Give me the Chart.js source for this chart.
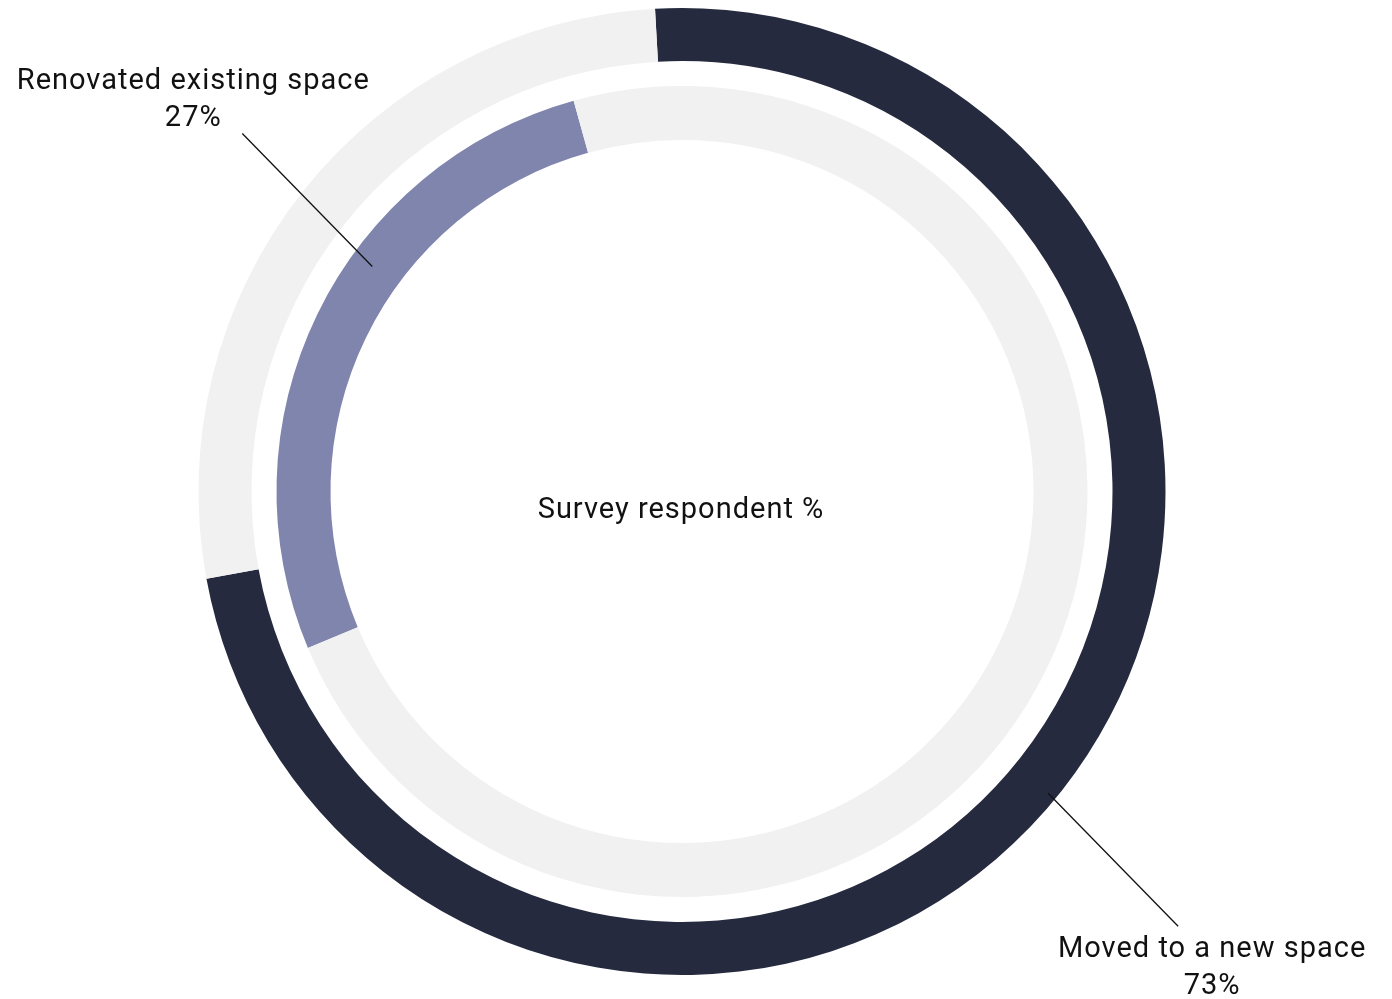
<!DOCTYPE html>
<html>
<head>
<meta charset="utf-8">
<script src="https://cdn.jsdelivr.net/npm/chart.js@4.4.1/dist/chart.umd.min.js"></script>
<style>
  html, body { margin: 0; padding: 0; background: #ffffff; }
  #wrap { width: 1392px; height: 999px; position: relative; }
</style>
</head>
<body>
<div id="wrap"><canvas id="SurveyChart"></canvas></div>
<script>
const categories = ['Moved to a new space', 'Renovated existing space'];
const movedValues = [73, 27];       // outer ring: share, remainder
const renovatedValues = [27, 73];   // inner ring: share, remainder
const centerTitle = 'Survey respondent %';

const DARK = '#262a3f';
const LAVENDER = '#8085ad';
const TRACK = '#f1f1f1';
const FONT = 'Roboto, "Liberation Sans", sans-serif';

// leader lines + labels anchored on the arc they describe
const calloutPlugin = {
    id: 'callouts',
    afterDraw(chart) {
        const ctx = chart.ctx;
        const callouts = [
            { ds: 0, idx: 0, angleShift: 1.3, radiusFrac: 0.83, dx: 130, dy: 133, below: true,
              label: categories[0], value: movedValues[0] },
            { ds: 2, idx: 0, angleShift: 10.1, radiusFrac: 0.58, dx: -130, dy: -133, below: false,
              label: categories[1], value: renovatedValues[0] }
        ];
        ctx.save();
        if ('letterSpacing' in ctx) ctx.letterSpacing = '1px';
        callouts.forEach(c => {
            const arc = chart.getDatasetMeta(c.ds).data[c.idx];
            const p = arc.getProps(['x', 'y', 'startAngle', 'endAngle', 'innerRadius', 'outerRadius'], true);
            const mid = (p.startAngle + p.endAngle) / 2 + c.angleShift * Math.PI / 180;
            const r = p.innerRadius + (p.outerRadius - p.innerRadius) * c.radiusFrac;
            const ax = p.x + Math.cos(mid) * r;
            const ay = p.y + Math.sin(mid) * r;
            const ex = ax + c.dx;
            const ey = ay + c.dy;
            ctx.strokeStyle = '#111111';
            ctx.lineWidth = 1.3;
            ctx.beginPath();
            ctx.moveTo(ax, ay);
            ctx.lineTo(ex, ey);
            ctx.stroke();

            ctx.fillStyle = '#111111';
            ctx.font = '29px ' + FONT;
            ctx.textAlign = 'center';
            ctx.textBaseline = 'alphabetic';
            if (c.below) {
                ctx.fillText(c.label, ex + 34, ey + 31);
                ctx.fillText(c.value + '%', ex + 34, ey + 68);
            } else {
                ctx.fillText(c.label, ex - 49, ey - 44);
                ctx.fillText(c.value + '%', ex - 49, ey - 7);
            }
        });
        // center title
        const a = chart.getDatasetMeta(0).data[0];
        ctx.font = '29px ' + FONT;
        ctx.textAlign = 'center';
        ctx.fillText(centerTitle, a.x - 1, a.y + 26);
        ctx.restore();
    }
};

const ctx = document.getElementById('SurveyChart').getContext('2d');
const chart = new Chart(ctx, {
    type: 'doughnut',
    data: {
        labels: categories,
        datasets: [
            {
                data: movedValues,
                backgroundColor: [DARK, TRACK],
                rotation: -3.2,
                weight: 53
            },
            {
                data: [1],
                backgroundColor: ['rgba(0,0,0,0)'],
                weight: 25
            },
            {
                data: renovatedValues,
                backgroundColor: [LAVENDER, TRACK],
                rotation: 247.3,
                weight: 54
            }
        ]
    },
    options: {
        responsive: true,
        maintainAspectRatio: false,
        animation: false,
        cutout: '72.7%',
        borderWidth: 0,
        events: [],
        layout: { padding: { top: 8, bottom: 24, left: 0, right: 28 } },
        plugins: {
            legend: { display: false },
            tooltip: { enabled: false }
        }
    },
    plugins: [calloutPlugin]
});
</script>
</body>
</html>
